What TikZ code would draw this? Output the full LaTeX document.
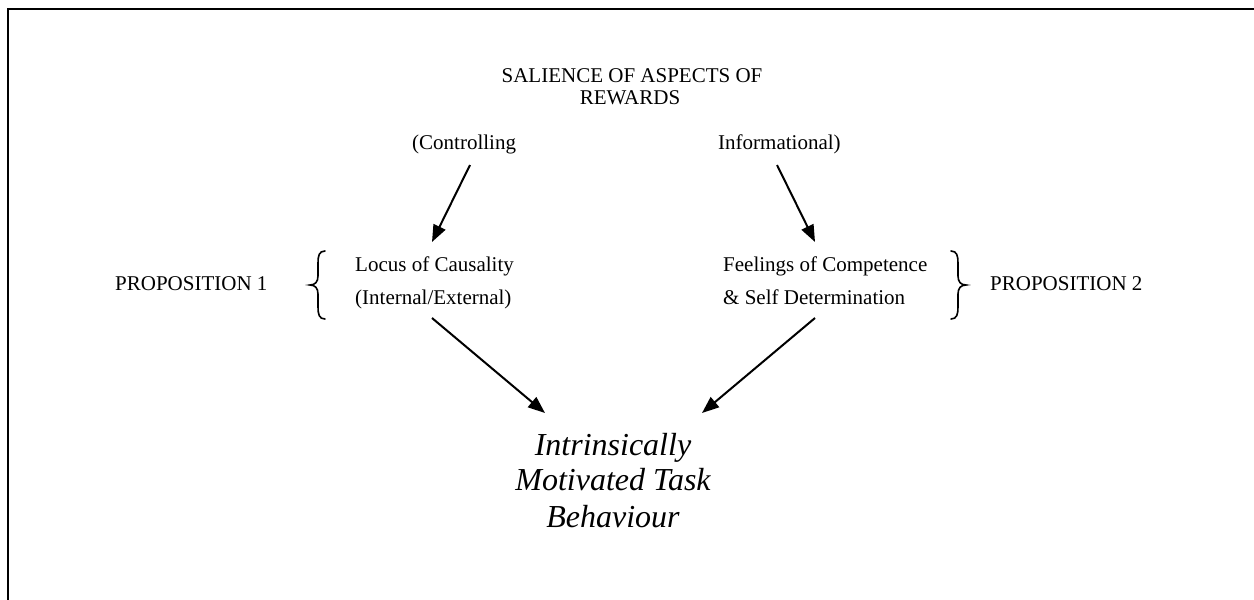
\documentclass[tikz,border=0pt]{standalone}
\usepackage{fontspec}
\setmainfont{Liberation Serif}
\usetikzlibrary{arrows.meta}
\begin{document}
\begin{tikzpicture}[x=1pt,y=-1pt,
  lbl/.style={font=\fontsize{21}{21}\selectfont, inner sep=0pt, anchor=base},
  big/.style={font=\fontsize{32}{36}\selectfont\itshape, inner sep=0pt, anchor=base},
  arr/.style={line width=2pt, -{Triangle[length=17pt,width=13pt]}},
  frame/.style={line width=2pt},
  brace/.style={line width=1.6pt, line cap=round}]
\useasboundingbox (0,0) rectangle (1254,600);

% frame: top and left edges only
\draw[frame] (8,600) -- (8,9) -- (1254,9);

% heading
\node[lbl] (title1) at (632,82) {SALIENCE OF ASPECTS OF};
\node[lbl] (title2) at (630,104) {REWARDS};

% the two aspects
\node[lbl, anchor=base west] (ctrl) at (412,149) {(Controlling};
\node[lbl, anchor=base west] (info) at (718,149) {Informational)};

% mediating perceptions
\node[lbl, anchor=base west] (locus) at (355,271) {Locus of Causality};
\node[lbl, anchor=base west] (intext) at (355,304) {(Internal/External)};
\node[lbl, anchor=base west] (feel) at (723,271) {Feelings of Competence};
\node[lbl, anchor=base west] (selfdet) at (723,304) {\& Self Determination};

% propositions
\node[lbl, anchor=base west] (prop1) at (115,290) {PROPOSITION 1};
\node[lbl, anchor=base west] (prop2) at (990,290) {PROPOSITION 2};

% outcome
\node[big] (out1) at (613,455) {Intrinsically};
\node[big] (out2) at (613,490) {Motivated Task};
\node[big] (out3) at (613,527) {Behaviour};

% braces
\draw[brace] (325,251) .. controls (319,251) and (318,256) .. (318,263)
  -- (318,276) .. controls (318,282) and (315,285) .. (310,285)
  .. controls (315,285) and (318,288) .. (318,294)
  -- (318,307) .. controls (318,314) and (319,319) .. (325,319);
\draw[brace] (951,251) .. controls (957,251) and (958,256) .. (958,263)
  -- (958,276) .. controls (958,282) and (961,285) .. (966,285)
  .. controls (961,285) and (958,288) .. (958,294)
  -- (958,307) .. controls (958,314) and (957,319) .. (951,319);

% arrow end points
\coordinate (c1s) at (470,165);
\coordinate (c1e) at (432,242);
\coordinate (i1s) at (777,165);
\coordinate (i1e) at (815,242);
\coordinate (l1s) at (432,318);
\coordinate (l1e) at (545,413);
\coordinate (f1s) at (815,318);
\coordinate (f1e) at (702,413);

\draw[arr] (c1s) -- (c1e);
\draw[arr] (i1s) -- (i1e);
\draw[arr] (l1s) -- (l1e);
\draw[arr] (f1s) -- (f1e);
\end{tikzpicture}
\end{document}
